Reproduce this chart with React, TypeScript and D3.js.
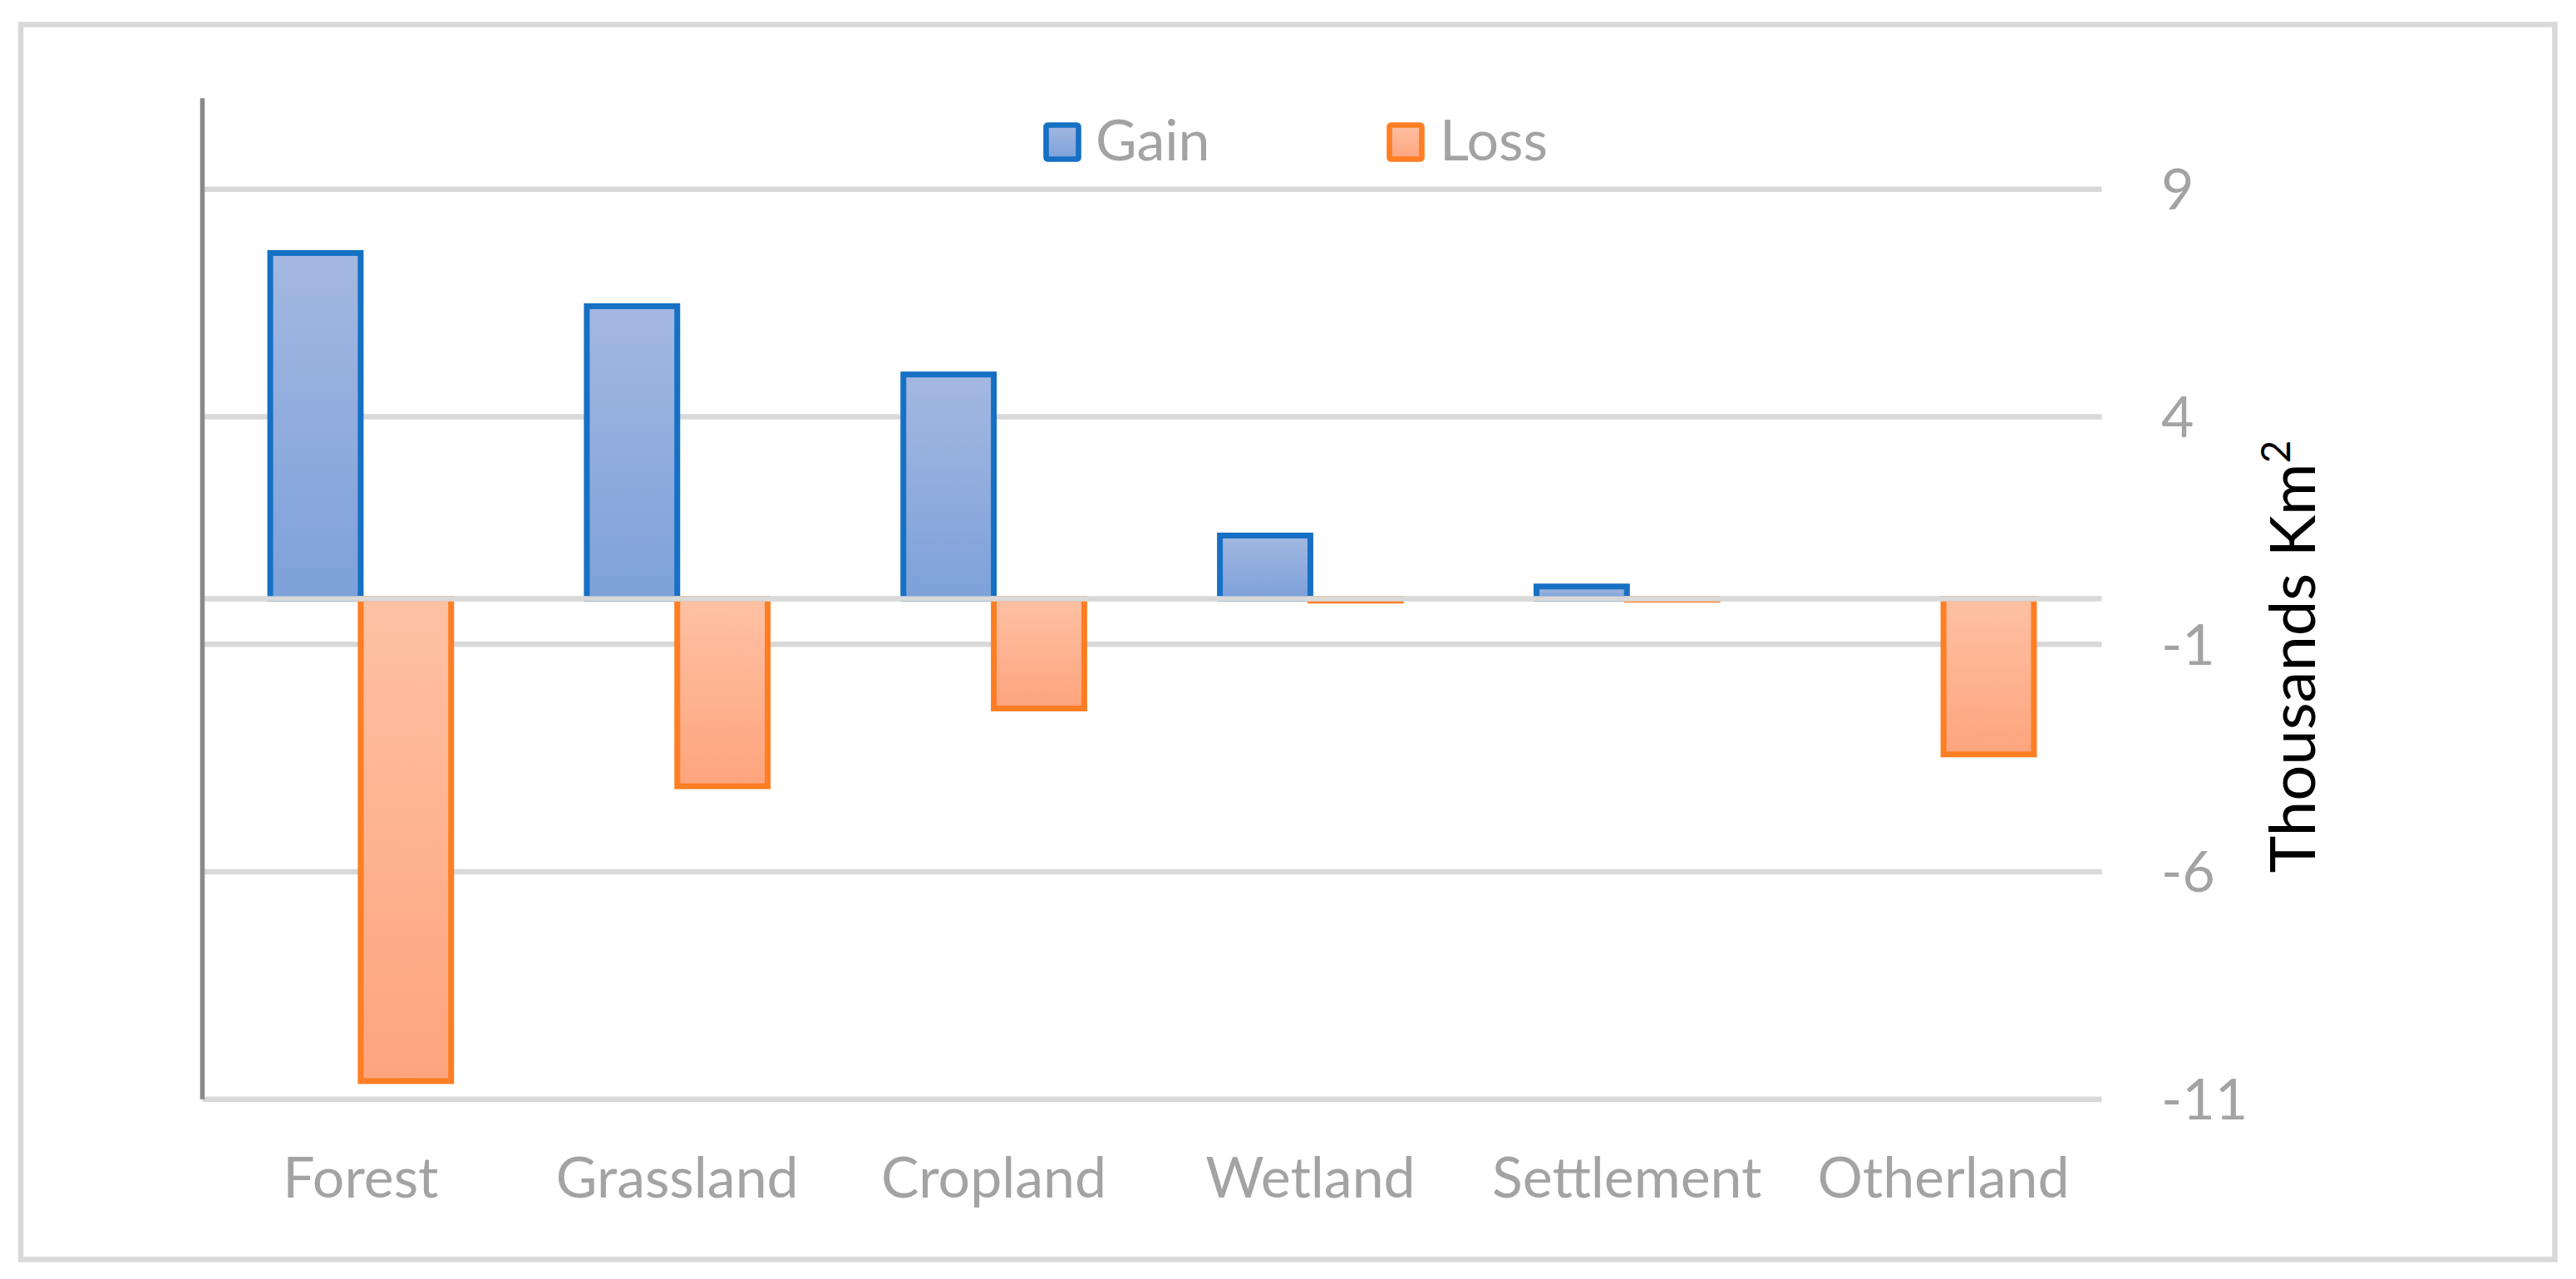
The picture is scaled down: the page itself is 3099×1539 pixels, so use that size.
import React from "react";
import * as d3 from "d3";

const categories = ["Forest", "Grassland", "Cropland", "Wetland", "Settlement", "Otherland"];
const gainValues = [7.6, 6.43, 4.93, 1.39, 0.27, 0];
const lossValues = [-10.6, -4.12, -2.41, -0.04, -0.02, -3.42];
const seriesNames = ["Gain", "Loss"];
const tickValues = [9, 4, -1, -6, -11];

const W = 3099;
const H = 1539;
const FONT = "Lato, 'Open Sans', sans-serif";

export default function App() {
  const x0 = d3.scaleBand<string>().domain(categories).range([243.5, 2528.5]).padding(0);
  const step = x0.step();
  const groupW = step / 1.75;
  const x1 = d3
    .scaleBand<string>()
    .domain(seriesNames)
    .range([(step - groupW) / 2, (step + groupW) / 2])
    .padding(0);
  const y = d3.scaleLinear().domain([-11, 11]).range([1322.75, 118.25]);

  const series = [
    { name: "Gain", values: gainValues, stroke: "#1670C4", grad: "gradGain" },
    { name: "Loss", values: lossValues, stroke: "#FD7E23", grad: "gradLoss" },
  ];

  const xLeft = 243.5;
  const xRight = 2528.5;

  return (
    <div style={{ position: "fixed", left: 0, top: 0, width: W, height: H, background: "#fff" }}>
      <svg width={W} height={H} viewBox={`0 0 ${W} ${H}`} style={{ display: "block" }}>
        <defs>
          <linearGradient id="gradGain" x1="0" y1="0" x2="0" y2="1">
            <stop offset="0" stopColor="#A4B8E1" />
            <stop offset="1" stopColor="#7DA1DA" />
          </linearGradient>
          <linearGradient id="gradLoss" x1="0" y1="0" x2="0" y2="1">
            <stop offset="0" stopColor="#FEC1A4" />
            <stop offset="1" stopColor="#FDA47D" />
          </linearGradient>
        </defs>
        <rect x={0} y={0} width={W} height={H} fill="#fff" />
        {/* outer chart border */}
        <rect x={25} y={29.5} width={3048.5} height={1486} fill="#fff" stroke="#D9D9D9" strokeWidth={6.5} />

        {/* gridlines */}
        {tickValues.map((t) => (
          <line key={t} x1={xLeft} x2={xRight} y1={y(t)} y2={y(t)} stroke="#D9D9D9" strokeWidth={6.7} />
        ))}

        {/* bars */}
        {series.map((s) => (
          <g key={s.name}>
            {categories.map((c, i) => {
              const v = s.values[i];
              if (v === 0) return null;
              const bx = (x0(c) as number) + (x1(s.name) as number);
              const top = y(Math.max(0, v));
              const bottom = y(Math.min(0, v));
              return (
                <rect
                  key={c}
                  x={bx}
                  y={top}
                  width={x1.bandwidth()}
                  height={bottom - top}
                  fill={`url(#${s.grad})`}
                  stroke={s.stroke}
                  strokeWidth={7}
                />
              );
            })}
          </g>
        ))}

        {/* zero axis line on top of bars */}
        <line x1={xLeft} x2={xRight} y1={y(0)} y2={y(0)} stroke="#D9D9D9" strokeWidth={6.7} />
        {/* left vertical axis line */}
        <line x1={xLeft} x2={xLeft} y1={y(11)} y2={y(-11)} stroke="#898989" strokeWidth={5.5} />

        {/* right tick labels */}
        {tickValues.map((t) => (
          <text
            key={t}
            x={2600}
            y={y(t)}
            dy="0.36em"
            fontFamily={FONT}
            fontSize={68}
            fill="#A3A3A3"
          >
            {t}
          </text>
        ))}

        {/* category labels */}
        {categories.map((c) => (
          <text
            key={c}
            x={(x0(c) as number) + step / 2}
            y={1441}
            textAnchor="middle"
            fontFamily={FONT}
            fontSize={68}
            fill="#A3A3A3"
          >
            {c}
          </text>
        ))}

        {/* axis title */}
        <text
          transform="translate(2785,790) rotate(-90)"
          textAnchor="middle"
          fontFamily={FONT}
          fontSize={76}
          fill="#000"
        >
          Thousands Km
          <tspan fontSize={48} dy={-30}>2</tspan>
        </text>

        {/* legend */}
        {series.map((s, i) => {
          const mx = i === 0 ? 1258.5 : 1671.5;
          const tx = i === 0 ? 1318 : 1732;
          return (
            <g key={s.name}>
              <rect
                x={mx}
                y={150.5}
                width={39}
                height={41}
                rx={2}
                fill={`url(#${s.grad})`}
                stroke={s.stroke}
                strokeWidth={6.6}
              />
              <text x={tx} y={193} fontFamily={FONT} fontSize={68} fill="#A3A3A3">
                {s.name}
              </text>
            </g>
          );
        })}
      </svg>
    </div>
  );
}
